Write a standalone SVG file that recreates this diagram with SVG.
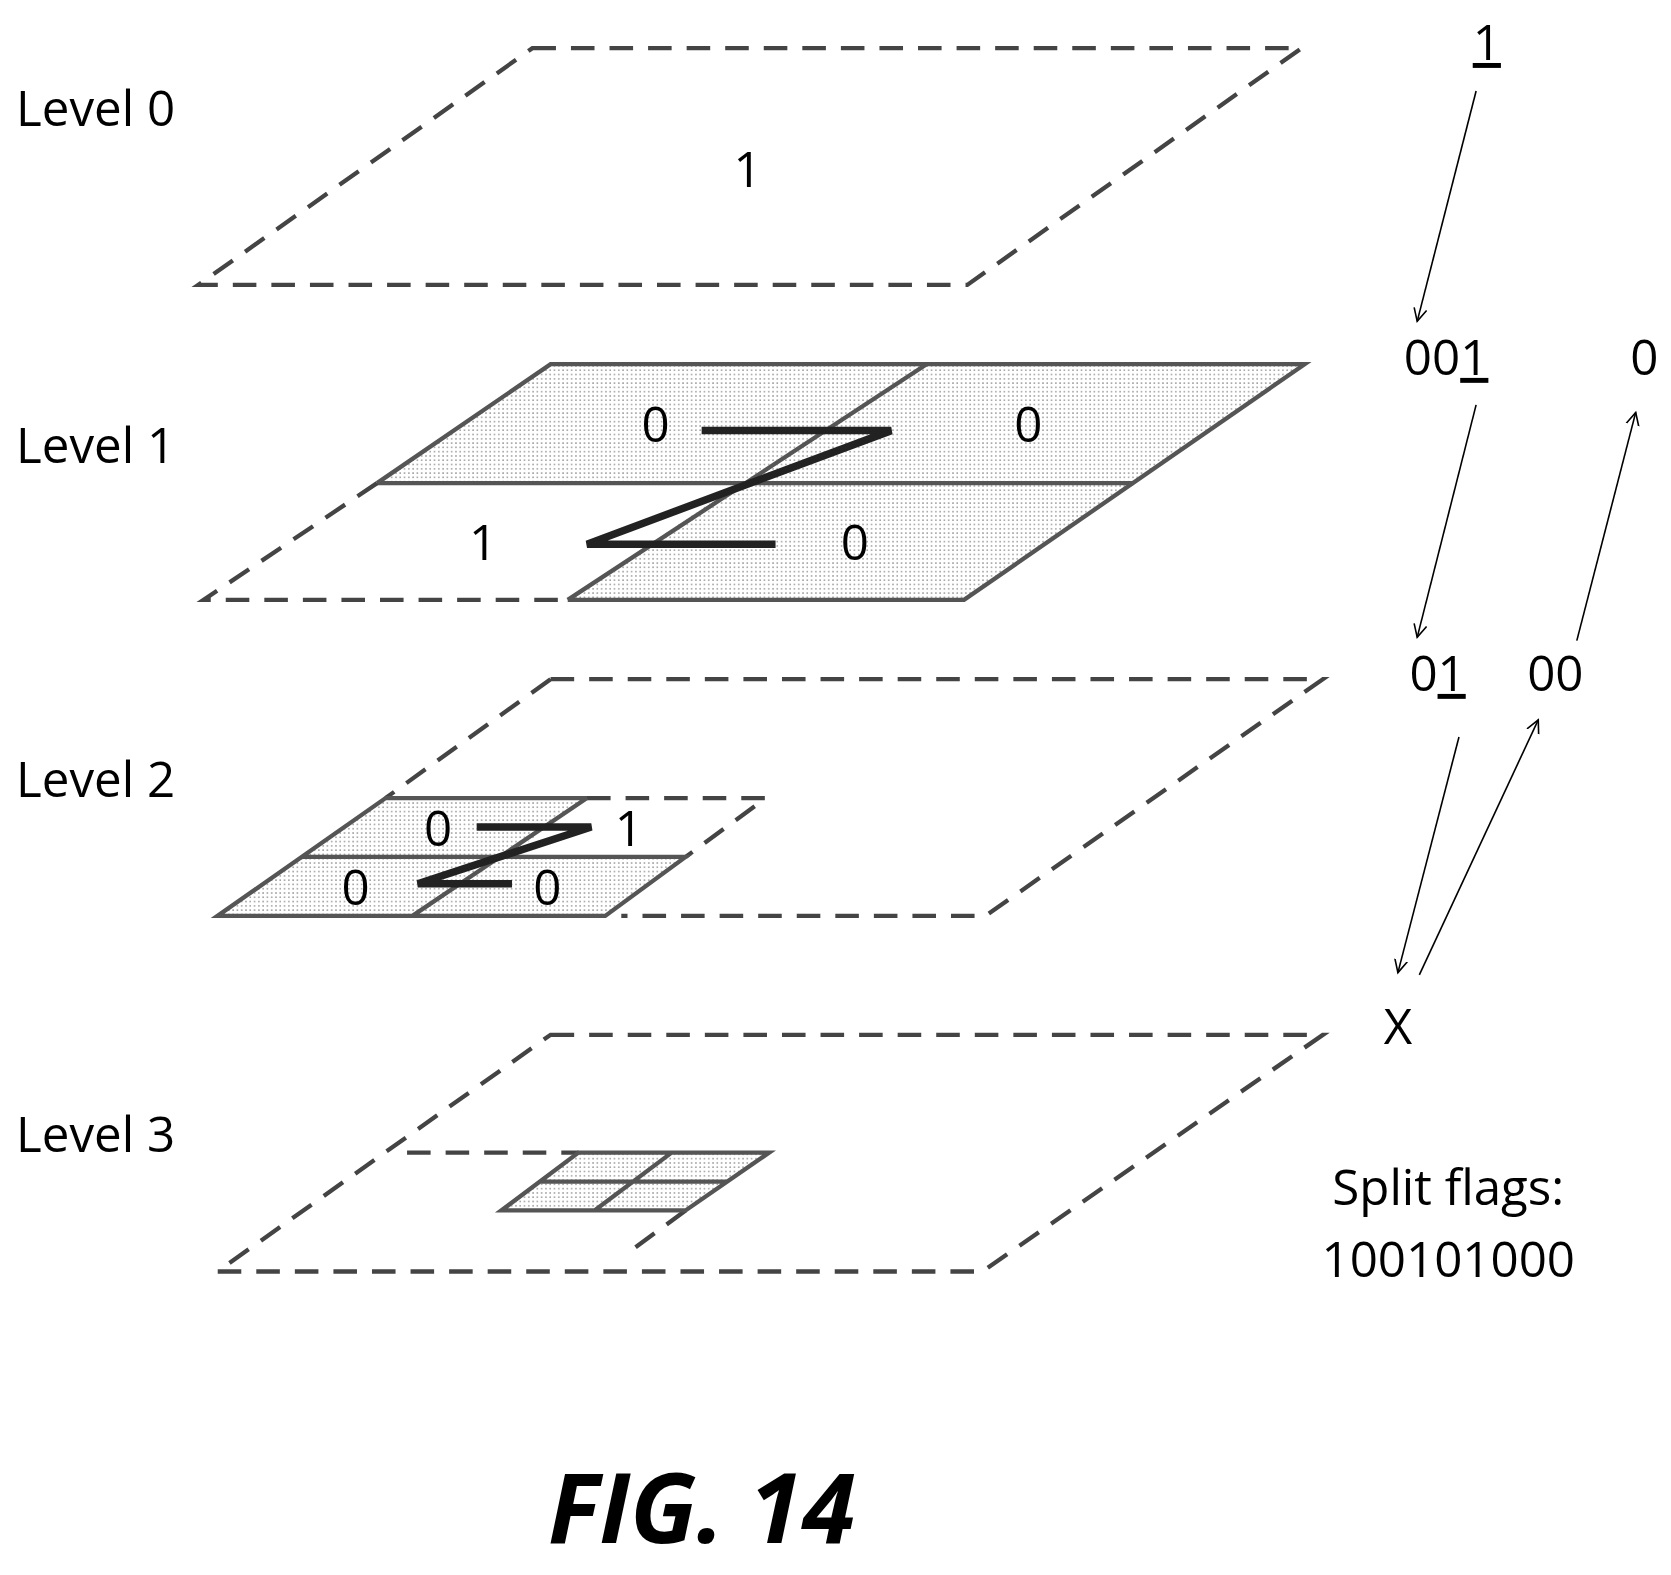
<svg xmlns="http://www.w3.org/2000/svg" width="1671" height="1575" viewBox="0 0 1671 1575">
<defs>
<pattern id="dots" width="4" height="4" patternUnits="userSpaceOnUse"><rect width="4" height="4" fill="#fff"/><rect x="1" y="1" width="1.3" height="1.3" fill="#888"/></pattern>
<marker id="ah" markerWidth="14" markerHeight="14" refX="12" refY="7" orient="auto" markerUnits="userSpaceOnUse"><path d="M0,1 L12,7 L0,13" fill="none" stroke="#000" stroke-width="1.5"/></marker>
<style>
.d{fill:none;stroke:#444;stroke-width:4;stroke-dasharray:22,14}
.s{stroke:#555;stroke-width:4;fill:none}
.sh{fill:url(#dots);stroke:none}
.z{fill:none;stroke:#222;stroke-width:7;stroke-linejoin:miter}
.t{font-family:"Open Sans","Liberation Sans",sans-serif;font-size:46px;fill:#000}
.a{stroke:#000;stroke-width:1.5;fill:none;marker-end:url(#ah)}
</style>
</defs>
<rect width="1671" height="1575" fill="#fff"/>
<g transform="scale(1.0712)">
<g id="level0">
<text class="t" x="15" y="118">Level 0</text>
<path class="d" d="M497,45 H1215 L903,266 H185 Z"/>
<text class="t" x="698" y="175" text-anchor="middle">1</text>
</g>
<g id="level1">
<text class="t" x="15" y="432">Level 1</text>
<path class="sh" d="M514,340 H1218 L900,560 H530 L690,451 H352 Z"/>
<path class="s" d="M352,451 L514,340 H1218 L900,560 H530"/>
<path class="s" d="M352,451 H1058 M865,340 L530,560"/>
<path class="d" d="M352,451 L190,560 H530"/>
<path class="z" d="M655,402 H832 L548,508 H724"/>
<text class="t" x="612" y="413" text-anchor="middle">0</text>
<text class="t" x="960" y="413" text-anchor="middle">0</text>
<text class="t" x="451" y="523" text-anchor="middle">1</text>
<text class="t" x="798" y="523" text-anchor="middle">0</text>
</g>
<g id="level2">
<text class="t" x="15" y="744">Level 2</text>
<path class="d" d="M514,634 H1235 L920,855 H580 M514,634 L360,745 M548,745 H715 L640,800"/>
<path class="sh" d="M360,745 H548 L474,800 H640 L565,855 H203 Z"/>
<path class="s" d="M548,745 H360 L203,855 H565 L640,800 H282 M548,745 L385,855"/>
<path class="z" d="M445,772 H552 L390,825 H478"/>
<text class="t" x="409" y="790" text-anchor="middle">0</text>
<text class="t" x="587" y="790" text-anchor="middle">1</text>
<text class="t" x="332" y="845" text-anchor="middle">0</text>
<text class="t" x="511" y="845" text-anchor="middle">0</text>
</g>
<g id="level3">
<text class="t" x="15" y="1075">Level 3</text>
<path class="d" d="M514,966 H1235 L917,1187 H203 Z M380,1076 H540 M640,1130 L583,1172"/>
<path class="sh" d="M540,1076 H718 L640,1130 H468 Z"/>
<path class="s" d="M540,1076 H718 L640,1130 H468 Z M504,1103 H679 M627,1076 L555,1130"/>
</g>
<g id="labels">
<text class="t" x="1388" y="56" text-anchor="middle" text-decoration="underline">1</text>
<text class="t" x="1350" y="350" text-anchor="middle">00<tspan text-decoration="underline">1</tspan></text>
<text class="t" x="1535" y="350" text-anchor="middle">0</text>
<text class="t" x="1342" y="645" text-anchor="middle">0<tspan text-decoration="underline">1</tspan></text>
<text class="t" x="1452" y="645" text-anchor="middle">00</text>
<text class="t" x="1305" y="975" text-anchor="middle">X</text>
<text class="t" x="1352" y="1125" text-anchor="middle">Split flags:</text>
<text class="t" x="1352" y="1192" text-anchor="middle">100101000</text>
<text x="655" y="1440" text-anchor="middle" font-family="'Open Sans','Liberation Sans',sans-serif" font-size="90" font-weight="bold" font-style="italic">FIG. 14</text>
</g>
<g id="connectors">
<line class="a" x1="1378" y1="85" x2="1323" y2="300"/>
<line class="a" x1="1378" y1="378" x2="1323" y2="595"/>
<line class="a" x1="1472" y1="598" x2="1527" y2="385"/>
<line class="a" x1="1362" y1="688" x2="1305" y2="908"/>
<line class="a" x1="1325" y1="910" x2="1436" y2="672"/>
</g>
</g>
</svg>
